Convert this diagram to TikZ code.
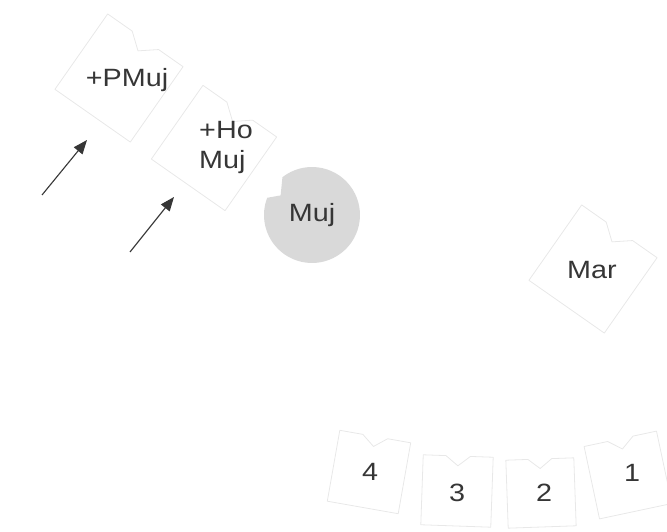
\documentclass[tikz,border=0pt]{standalone}
\usepackage{fontspec}
\setmainfont{Liberation Sans}[FakeStretch=1.15]
\usetikzlibrary{arrows.meta}
\definecolor{ink}{HTML}{363636}
\definecolor{edge}{HTML}{E8E8E8}
\definecolor{disc}{HTML}{D9D9D9}

\tikzset{
  tileline/.style={draw=edge,line width=0.8pt,line join=round},
  tile/.pic={\draw[tileline] (-1,-1) -- (-1,1) -- (-0.35,1) -- (0,0.72) -- (0.35,1) -- (1,1) -- (1,-1) -- cycle;},
  word/.style={text=ink,font=\fontsize{25}{30}\selectfont,align=left,inner sep=0pt},
  arr/.style={-{Triangle[length=14pt,width=11pt]},line width=1.1pt,ink}
}

\begin{document}
\begin{tikzpicture}[x=1pt,y=1pt]
    \useasboundingbox (0,0) rectangle (667,531);
    % pieces
    \pic[rotate=-35,scale=46] at (119,453) {tile};
    \pic[rotate=-35,scale=45] at (214,383) {tile};
    \pic[rotate=-35,scale=46] at (593,262) {tile};
    \pic[rotate=-10,scale=36] at (369,59) {tile};
    \pic[rotate=-2,scale=35] at (457,40) {tile};
    \pic[rotate=2,scale=34] at (541,38) {tile};
    \pic[rotate=12,scale=37] at (628,56) {tile};
    % disc with notch
    \coordinate (mujc) at (312,316);
    \fill[disc] (mujc) ++(128:48) arc[start angle=128,delta angle=-329,radius=48] -- ([shift={(148:37)}]mujc) -- cycle;
    % labels
    \node[word] (pmuj) at (127,451) {+PMuj};
    \node[word] (homuj) at (226,384) {+Ho\\Muj};
    \node[word] (muj) at (mujc) {Muj};
    \node[word] (mar) at (592,261) {Mar};
    \node[word] (n4) at (370,59) {4};
    \node[word] (n3) at (457,38) {3};
    \node[word] (n2) at (544,38) {2};
    \node[word] (n1) at (632,58) {1};
    % arrows
    \coordinate (t1) at (42,336);
    \coordinate (h1) at (87,391);
    \coordinate (t2) at (130,279);
    \coordinate (h2) at (174,334);
    \draw[arr] (t1) -- (h1);
    \draw[arr] (t2) -- (h2);
\end{tikzpicture}
\end{document}
